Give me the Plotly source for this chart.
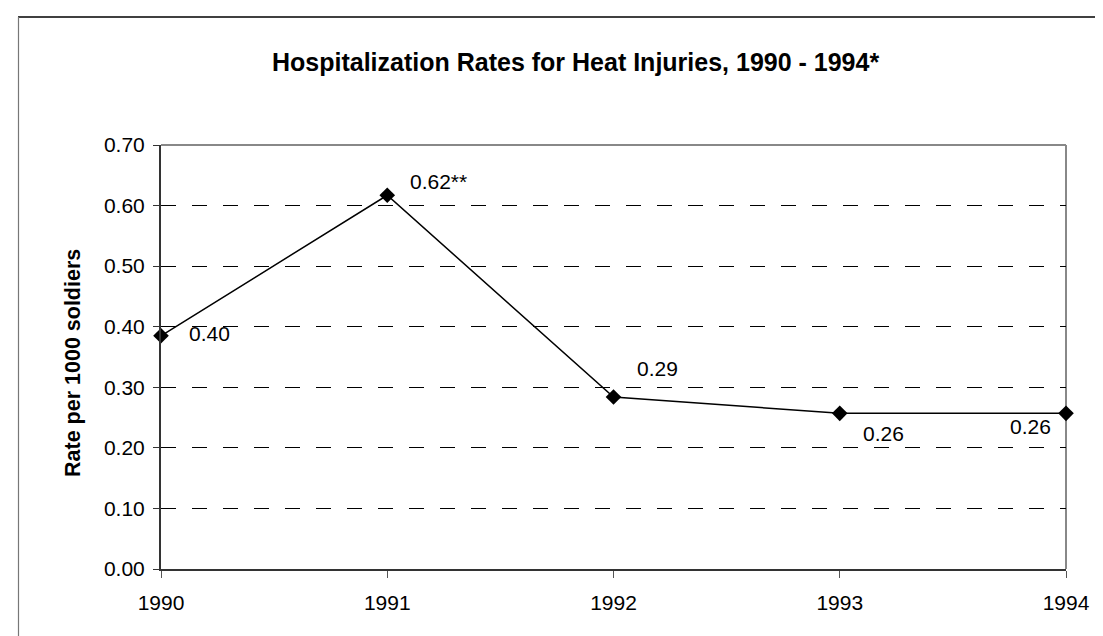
import plotly.graph_objects as go

years = [1990, 1991, 1992, 1993, 1994]
rates = [0.385, 0.617, 0.284, 0.257, 0.257]
rate_labels = ["0.40", "0.62**", "0.29", "0.26", "0.26"]
y_ticks = [0.0, 0.1, 0.2, 0.3, 0.4, 0.5, 0.6, 0.7]

title_text = "Hospitalization Rates for Heat Injuries, 1990 - 1994*"
y_title = "Rate per 1000 soldiers"

FONT = "Liberation Sans, Arial, sans-serif"

fig = go.Figure()
fig.add_trace(go.Scatter(
    x=years, y=rates, mode="lines+markers",
    line=dict(color="black", width=1.5),
    marker=dict(symbol="diamond", size=12, color="black"),
    cliponaxis=False, showlegend=False, hoverinfo="skip",
))

# label offsets (pixels) relative to each point
offsets = [(26, 2, "left"), (21, 14, "left"), (21, 28, "left"), (21, -20, "left"), (-13, -13, "right")]
for xv, yv, txt, (dx, dy, anc) in zip(years, rates, rate_labels, offsets):
    fig.add_annotation(x=xv, y=yv, xref="x", yref="y", text=txt, showarrow=False,
                       xanchor=anc, yanchor="middle", xshift=dx, yshift=dy,
                       font=dict(family=FONT, size=21, color="black"))

L, R, T, B = 153, 1058, 137, 561
W, H = 1103, 636
pw, ph = R - L, B - T

def px_x(p):
    return (p - L) / pw

def px_y(p):
    return (B - p) / ph

# title
fig.add_annotation(x=px_x(567), xref="paper", y=px_y(54), yref="paper", text="<b>" + title_text + "</b>",
                   showarrow=False, xanchor="center", yanchor="middle",
                   font=dict(family=FONT, size=25, color="black"))
# y-axis title
fig.add_annotation(x=px_x(65), xref="paper", y=px_y(355), yref="paper", text="<b>" + y_title + "</b>",
                   showarrow=False, textangle=-90, xanchor="center", yanchor="middle",
                   font=dict(family=FONT, size=21.5, color="black"))

# outer chart border (extends off the right/bottom edges)
fig.add_shape(type="line", xref="paper", yref="paper", x0=px_x(10), x1=px_x(1110), y0=px_y(9), y1=px_y(9),
              line=dict(color="black", width=1.5), layer="below")
fig.add_shape(type="line", xref="paper", yref="paper", x0=px_x(10.5), x1=px_x(10.5), y0=px_y(9), y1=px_y(650),
              line=dict(color="#777777", width=1.2), layer="below")
# plot area frame (top and right gray)
fig.add_shape(type="line", xref="paper", yref="paper", x0=0, x1=1, y0=1, y1=1,
              line=dict(color="#888888", width=2), layer="above")
fig.add_shape(type="line", xref="paper", yref="paper", x0=1, x1=1, y0=0, y1=1,
              line=dict(color="#888888", width=2), layer="below")

fig.update_layout(
    width=W, height=H,
    margin=dict(l=L, r=W - R, t=T, b=H - B, pad=0),
    paper_bgcolor="white", plot_bgcolor="white",
    font=dict(family=FONT, size=21, color="black"),
    xaxis=dict(range=[1990, 1994], tickvals=years, ticktext=[str(y) for y in years],
               showgrid=False, zeroline=False, showline=True, linecolor="#333333", linewidth=2,
               ticks="outside", ticklen=7, tickcolor="#555555", tickwidth=1,
               tickfont=dict(family=FONT, size=21, color="black"), ticklabelstandoff=7),
    yaxis=dict(range=[0, 0.7], tickvals=y_ticks, tickformat=".2f",
               showgrid=True, gridcolor="black", gridwidth=1, griddash="15px,16px",
               zeroline=False, showline=True, linecolor="#333333", linewidth=2,
               ticks="outside", ticklen=6, tickcolor="#333333", tickwidth=1,
               tickfont=dict(family=FONT, size=21, color="black"), ticklabelstandoff=4),
)

fig.write_html("out.html")
